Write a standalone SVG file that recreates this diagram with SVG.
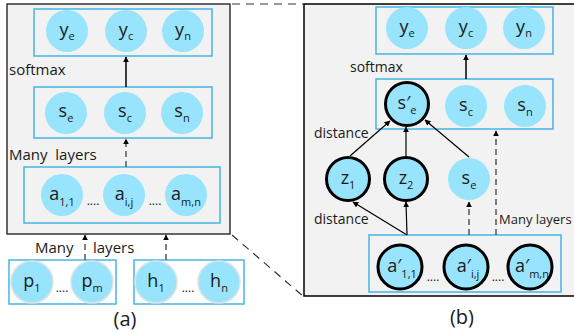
<svg xmlns="http://www.w3.org/2000/svg" width="574" height="333" viewBox="0 0 574 333">
<style>
.panel{fill:#f2f2f2;stroke:#333;stroke-width:1.5}
.box{fill:none;stroke:#45b5e6;stroke-width:1.5}
.c{fill:#97e4fc}
.ch{fill:#97e4fc;stroke:#e2e2e2;stroke-width:1.5}
.cb{fill:#97e4fc;stroke:#000;stroke-width:3}
text{font-family:"Open Sans","Noto Sans",sans-serif;fill:#1a1a1a}
.lbl{font-size:18px;text-anchor:middle}
.sub{font-size:11px}
.t{font-size:15px}
.tr{font-size:14px}
.dots{font-size:12px;text-anchor:middle}
.cap{font-size:20px;text-anchor:middle}
.solid{stroke:#000;stroke-width:1.5;fill:none}
.thin{stroke:#000;stroke-width:1.2;fill:none}
.dash{stroke:#555;stroke-width:1.5;fill:none;stroke-dasharray:6,4}
.guide{stroke:#333;stroke-width:1.2;fill:none;stroke-dasharray:8,6}
</style>
<defs>
<marker id="ah" viewBox="0 0 10 10" refX="9" refY="5" markerWidth="6" markerHeight="6" markerUnits="userSpaceOnUse" orient="auto">
<path d="M0,0 L10,5 L0,10 z" fill="#000"/>
</marker>
</defs>

<g id="panel-a">
<rect class="panel" x="7" y="4" width="223" height="230"/>
</g>
<g id="panel-b">
<rect class="panel" x="304" y="4" width="290" height="292" style="stroke:#000"/>
</g>

<g id="guides">
<line class="guide" x1="232" y1="4" x2="304" y2="4"/>
<line class="guide" x1="232" y1="235" x2="304" y2="297"/>
</g>

<!-- Panel (a) -->
<g id="a-y-layer">
<rect class="box" x="34" y="9" width="178" height="47"/>
<circle class="c" cx="67" cy="31" r="21"/>
<circle class="c" cx="126" cy="31" r="21"/>
<circle class="c" cx="183" cy="31" r="21"/>
<text class="lbl" x="67" y="36">y<tspan class="sub" dy="4">e</tspan></text>
<text class="lbl" x="126" y="36">y<tspan class="sub" dy="4">c</tspan></text>
<text class="lbl" x="183" y="36">y<tspan class="sub" dy="4">n</tspan></text>
</g>
<text class="t" x="9" y="75">softmax</text>

<g id="a-s-layer">
<rect class="box" x="34" y="87" width="178" height="51"/>
<circle class="c" cx="66" cy="113" r="21"/>
<circle class="c" cx="125" cy="113" r="21"/>
<circle class="c" cx="182" cy="113" r="21"/>
<text class="lbl" x="66" y="117">s<tspan class="sub" dy="5">e</tspan></text>
<text class="lbl" x="125" y="117">s<tspan class="sub" dy="5">c</tspan></text>
<text class="lbl" x="182" y="117">s<tspan class="sub" dy="5">n</tspan></text>
</g>
<text class="t" x="9" y="160" xml:space="preserve">Many  layers</text>

<g id="a-a-layer">
<rect class="box" x="24" y="167" width="196" height="56"/>
<circle class="c" cx="62" cy="195" r="21"/>
<circle class="c" cx="124" cy="195" r="21"/>
<circle class="c" cx="186" cy="195" r="21"/>
<text class="lbl" x="62" y="200">a<tspan class="sub" dy="6">1,1</tspan></text>
<text class="lbl" x="124" y="200">a<tspan class="sub" dy="6">i,j</tspan></text>
<text class="lbl" x="186" y="200">a<tspan class="sub" dy="6">m,n</tspan></text>
<text class="dots" x="93" y="205">....</text>
<text class="dots" x="155" y="205">....</text>
</g>

<g id="a-p-layer">
<rect class="box" x="9" y="260" width="107" height="44"/>
<circle class="ch" cx="32" cy="282" r="21"/>
<circle class="ch" cx="92" cy="282" r="21"/>
<text class="lbl" x="32" y="287">p<tspan class="sub" dy="5">1</tspan></text>
<text class="lbl" x="92" y="287">p<tspan class="sub" dy="5">m</tspan></text>
<text class="dots" x="62" y="292">....</text>
</g>

<g id="a-h-layer">
<rect class="box" x="134" y="260" width="110" height="44"/>
<circle class="ch" cx="156" cy="282" r="21"/>
<circle class="ch" cx="219" cy="282" r="21"/>
<text class="lbl" x="156" y="287">h<tspan class="sub" dy="5">1</tspan></text>
<text class="lbl" x="219" y="287">h<tspan class="sub" dy="5">n</tspan></text>
<text class="dots" x="188" y="292">....</text>
</g>
<text class="t" x="35" y="253">Many<tspan x="93">layers</tspan></text>
<text class="cap" x="125" y="326">(a)</text>

<!-- Panel (b) -->
<g id="b-y-layer">
<rect class="box" x="376" y="7" width="177" height="47"/>
<circle class="c" cx="407" cy="28" r="21"/>
<circle class="c" cx="466" cy="28" r="21"/>
<circle class="c" cx="524" cy="28" r="21"/>
<text class="lbl" x="407" y="33">y<tspan class="sub" dy="4">e</tspan></text>
<text class="lbl" x="466" y="33">y<tspan class="sub" dy="4">c</tspan></text>
<text class="lbl" x="524" y="33">y<tspan class="sub" dy="4">n</tspan></text>
</g>
<text class="tr" x="350" y="72">softmax</text>

<g id="b-s-layer">
<rect class="box" x="376" y="79" width="177" height="50"/>
<circle class="cb" cx="407" cy="104" r="21.5"/>
<circle class="c" cx="466" cy="106" r="21"/>
<circle class="c" cx="525" cy="106" r="21"/>
<text class="lbl" x="407" y="109">s′<tspan class="sub" dy="5">e</tspan></text>
<text class="lbl" x="466" y="111">s<tspan class="sub" dy="5">c</tspan></text>
<text class="lbl" x="525" y="111">s<tspan class="sub" dy="5">n</tspan></text>
</g>
<text class="tr" x="314" y="138">distance</text>

<g id="b-z1">
<circle class="cb" cx="348" cy="179" r="21.5"/>
<text class="lbl" x="348" y="184">z<tspan class="sub" dy="5">1</tspan></text>
</g>
<g id="b-z2">
<circle class="cb" cx="406" cy="179" r="21.5"/>
<text class="lbl" x="406" y="184">z<tspan class="sub" dy="5">2</tspan></text>
</g>
<g id="b-se">
<circle class="c" cx="469" cy="179" r="21"/>
<text class="lbl" x="469" y="184">s<tspan class="sub" dy="5">e</tspan></text>
</g>
<text class="tr" x="314" y="224">distance</text>
<text class="tr" x="499" y="224" style="font-size:13px">Many layers</text>

<g id="b-a-layer">
<rect class="box" x="369" y="235" width="192" height="57"/>
<circle class="cb" cx="400" cy="267" r="22"/>
<circle class="cb" cx="466" cy="267" r="22"/>
<circle class="cb" cx="530" cy="267" r="22"/>
<text class="lbl" x="402" y="272">a′<tspan class="sub" dy="6">1,1</tspan></text>
<text class="lbl" x="468" y="272">a′<tspan class="sub" dy="6">i,j</tspan></text>
<text class="lbl" x="532" y="272">a′<tspan class="sub" dy="6">m,n</tspan></text>
<text class="dots" x="433" y="281">....</text>
<text class="dots" x="498" y="281">....</text>
</g>
<text class="cap" x="462" y="324">(b)</text>

<g id="connectors">
<line class="solid" x1="126" y1="87" x2="126" y2="57" marker-end="url(#ah)"/>
<line class="dash" x1="126" y1="167" x2="126" y2="139" marker-end="url(#ah)"/>
<line class="dash" x1="85" y1="260" x2="85" y2="235" marker-end="url(#ah)"/>
<line class="dash" x1="166" y1="260" x2="166" y2="235" marker-end="url(#ah)"/>
<line class="solid" x1="466" y1="79" x2="466" y2="55" marker-end="url(#ah)"/>
<line class="thin" x1="350" y1="156" x2="390" y2="121" marker-end="url(#ah)"/>
<line class="thin" x1="406" y1="156" x2="406" y2="127" marker-end="url(#ah)"/>
<line class="thin" x1="469" y1="157" x2="425" y2="120" marker-end="url(#ah)"/>
<line class="thin" x1="407" y1="235" x2="353" y2="202" marker-end="url(#ah)"/>
<line class="thin" x1="407" y1="235" x2="406" y2="202" marker-end="url(#ah)"/>
<line class="dash" x1="469" y1="235" x2="469" y2="202" marker-end="url(#ah)"/>
<line class="dash" x1="496" y1="235" x2="496" y2="131" marker-end="url(#ah)"/>
</g>
</svg>
